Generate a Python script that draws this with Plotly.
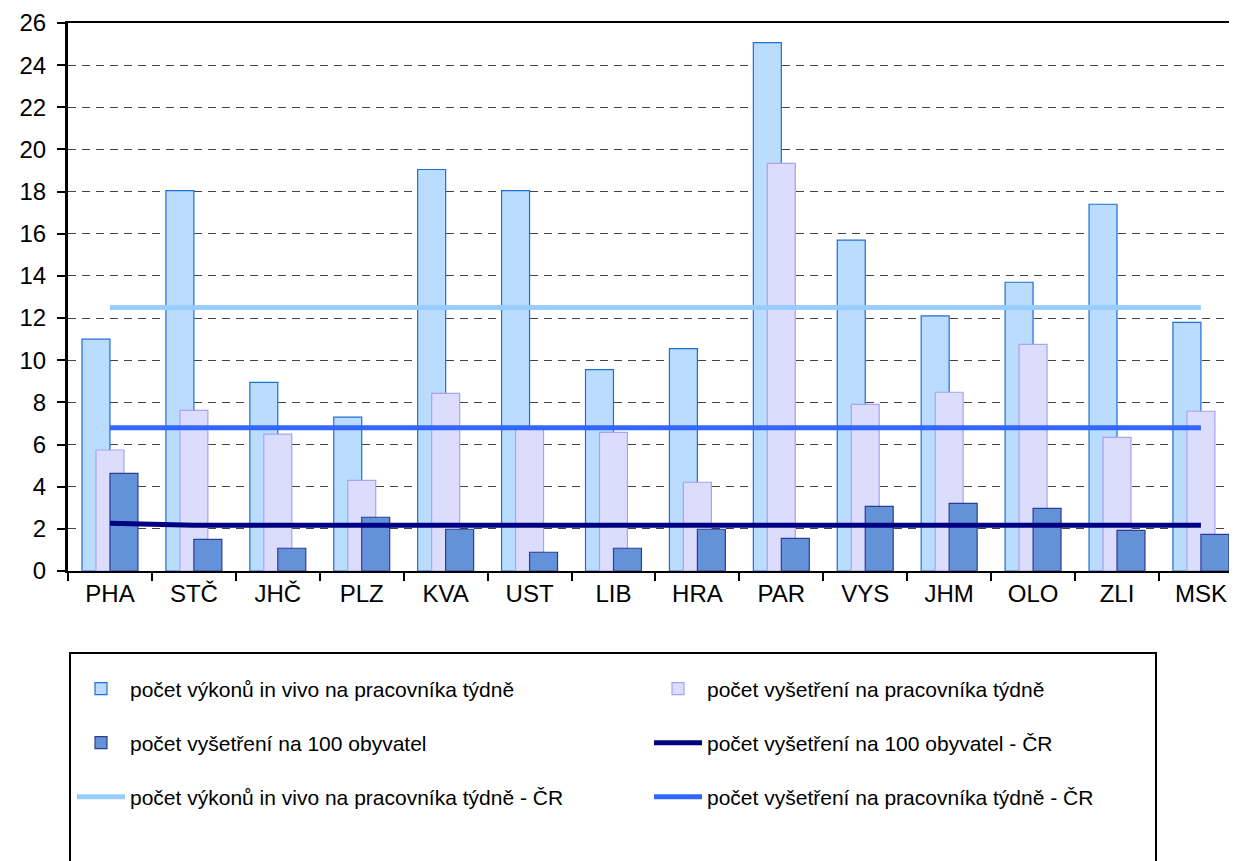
import plotly.graph_objects as go

# ---- data ----
kraje = ["PHA", "STČ", "JHČ", "PLZ", "KVA", "UST", "LIB", "HRA", "PAR", "VYS", "JHM", "OLO", "ZLI", "MSK"]
vykony_prac = [11.0, 18.05, 8.95, 7.3, 19.05, 18.05, 9.55, 10.55, 25.07, 15.7, 12.1, 13.7, 17.4, 11.8]
vysetreni_prac = [5.74, 7.62, 6.49, 4.3, 8.43, 6.75, 6.58, 4.21, 19.34, 7.91, 8.48, 10.75, 6.34, 7.58]
vysetreni_100 = [4.63, 1.5, 1.08, 2.55, 1.98, 0.89, 1.08, 1.98, 1.55, 3.07, 3.21, 2.97, 1.93, 1.74]
cr_vysetreni_100 = [2.26, 2.17, 2.17, 2.17, 2.17, 2.17, 2.17, 2.17, 2.17, 2.17, 2.17, 2.17, 2.17, 2.17]
cr_vykony_prac = [12.5, 12.5, 12.5, 12.5, 12.5, 12.5, 12.5, 12.5, 12.5, 12.5, 12.5, 12.5, 12.5, 12.5]
cr_vysetreni_prac = [6.8, 6.8, 6.8, 6.8, 6.8, 6.8, 6.8, 6.8, 6.8, 6.8, 6.8, 6.8, 6.8, 6.8]
y_ticks = [0, 2, 4, 6, 8, 10, 12, 14, 16, 18, 20, 22, 24, 26]

names = [
    "počet výkonů in vivo na pracovníka týdně",
    "počet vyšetření na pracovníka týdně",
    "počet vyšetření na 100 obyvatel",
    "počet vyšetření na 100 obyvatel - ČR",
    "počet výkonů in vivo na pracovníka týdně - ČR",
    "počet vyšetření na pracovníka týdně - ČR",
]

# page has an 8px body margin -> figure placed at (8, 8)
OFF = 8
W, H = 1237 - OFF, 861 - OFF
PLOT_L, PLOT_R, PLOT_T, PLOT_B = 68, 1237, 23, 571   # reference pixel coords
L, R, T, B = PLOT_L - OFF, 0, PLOT_T - OFF, H - (PLOT_B - OFF)
PW, PH = W - L - R, H - T - B
FONT = "Liberation Sans, Arial, sans-serif"

def px(x):
    return (x - PLOT_L) / PW

def py(y):
    return (PLOT_B - y) / PH

fig = go.Figure()
bw = 1 / 3
fig.add_trace(go.Bar(x=kraje, y=vykony_prac, name=names[0], width=bw, offset=-bw,
                     marker=dict(color="#B9DCFF", line=dict(color="#1F6FD2", width=1.2)),
                     legend="legend"))
fig.add_trace(go.Bar(x=kraje, y=vysetreni_prac, name=names[1], width=bw, offset=-bw / 2,
                     marker=dict(color="#DCDCFD", line=dict(color="#A7A3F2", width=1.2)),
                     legend="legend2"))
fig.add_trace(go.Bar(x=kraje, y=vysetreni_100, name=names[2], width=bw, offset=0,
                     marker=dict(color="#6392D8", line=dict(color="#2F3C96", width=1.2)),
                     legend="legend3"))
fig.add_trace(go.Scatter(x=kraje, y=cr_vysetreni_100, name=names[3], mode="lines",
                         line=dict(color="#000080", width=5), legend="legend4"))
fig.add_trace(go.Scatter(x=kraje, y=cr_vykony_prac, name=names[4], mode="lines",
                         line=dict(color="#99CCFF", width=5), legend="legend5"))
fig.add_trace(go.Scatter(x=kraje, y=cr_vysetreni_prac, name=names[5], mode="lines",
                         line=dict(color="#3366FF", width=5), legend="legend6"))

leg_font = dict(family=FONT, size=21, color="black")
col_x = [72, 649]
row_y = [689, 743, 797]
legends = {}
for i in range(6):
    key = "legend" if i == 0 else f"legend{i + 1}"
    legends[key] = dict(x=px(col_x[i % 2]), y=py(row_y[i // 2]), xanchor="left", yanchor="middle",
                        xref="paper", yref="paper", font=leg_font, bgcolor="rgba(0,0,0,0)",
                        borderwidth=0, itemwidth=48)

fig.update_layout(
    width=W, height=H,
    margin=dict(l=L, r=R, t=T, b=B, pad=0, autoexpand=False),
    plot_bgcolor="white", paper_bgcolor="white",
    barmode="overlay",
    showlegend=True,
    font=dict(family=FONT, size=24, color="black"),
    xaxis=dict(type="category", range=[-0.5, 13.43], tickson="boundaries", ticks="outside",
               ticklen=8, tickwidth=2, tickcolor="black", showline=True, linecolor="black",
               linewidth=2, mirror=True, showgrid=False, tickfont=dict(size=24),
               automargin=False),
    yaxis=dict(range=[0, 26], tickvals=y_ticks, ticks="outside", ticklen=8, tickwidth=1.5,
               tickcolor="black", showline=True, linecolor="black", linewidth=3, mirror=False,
               showgrid=True, gridcolor="#444444", gridwidth=1, griddash="8px,6px",
               zeroline=False, tickfont=dict(size=24), ticklabelstandoff=6, automargin=False),
    shapes=[dict(type="rect", xref="paper", yref="paper", x0=px(70), x1=px(1156),
                 y0=py(653), y1=py(875), line=dict(color="black", width=2),
                 fillcolor="rgba(0,0,0,0)", layer="above")],
    **legends,
)

fig.write_html("out.html")
